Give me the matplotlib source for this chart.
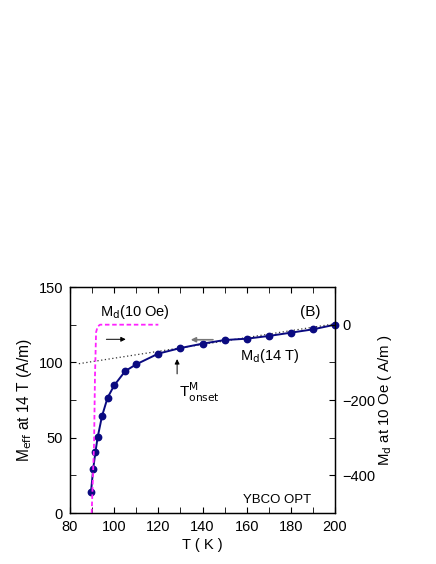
import matplotlib
matplotlib.use("Agg")
import matplotlib.pyplot as plt
from matplotlib.ticker import MultipleLocator

plt.rcParams['font.family'] = ['Liberation Sans', 'DejaVu Sans']

# Data
T_14T = [89.5, 90.5, 91.5, 92.5, 94.5, 97, 100, 105, 110, 120, 130, 140, 150, 160, 170, 180, 190, 200]
M_14T = [13.9, 29.4, 40.3, 50.2, 64.4, 76.5, 84.7, 94.2, 98.7, 105.8, 109.5, 112.4, 114.8, 115.7, 117.5, 119.7, 121.9, 125.0]

T_fit = [84, 200]
M_fit = [99.1, 125.6]

T_10Oe = [89.7, 90.9, 91.3, 91.8, 92.5, 93.6, 120]
M_10Oe = [-520, -313, -137, -20, -5, 0, 0]

fig = plt.figure(figsize=(4.36, 5.64), dpi=100)
ax = fig.add_axes([0.1606, 0.0904, 0.6077, 0.4007])
ax2 = ax.twinx()

ax.plot(T_fit, M_fit, color='#333333', ls=(0, (1, 2)), lw=0.9, zorder=2)
ax.plot(T_14T, M_14T, color='#0a0a80', lw=1.4, marker='o', ms=4.6, zorder=3, clip_on=False)
ax2.plot(T_10Oe, M_10Oe, color='#ff22ff', ls=(0, (2.5, 1.5)), lw=1.3)

ax.set_xlim(80, 200)
ax.set_ylim(0, 150)
ax2.set_ylim(-500, 100)

ax.xaxis.set_major_locator(MultipleLocator(20))
ax.xaxis.set_minor_locator(MultipleLocator(10))
ax.yaxis.set_major_locator(MultipleLocator(50))
ax.yaxis.set_minor_locator(MultipleLocator(25))
ax2.yaxis.set_major_locator(MultipleLocator(200))
ax2.yaxis.set_minor_locator(MultipleLocator(100))

ax.tick_params(which='both', direction='in', top=True, labelsize=10.5, pad=5)
ax.tick_params(axis='y', which='both', right=False)
ax.tick_params(which='major', length=4)
ax.tick_params(which='minor', length=4)
ax2.tick_params(which='both', direction='in', labelsize=10.5, length=4, pad=5)

for a in (ax, ax2):
    for s in a.spines.values():
        s.set_linewidth(0.9)

ax.set_xlabel('T ( K )', fontsize=10.5, labelpad=3)
ax.set_ylabel(r'M$_{\rm eff}$ at 14 T (A/m)', fontsize=11.2, labelpad=3)
ax2.set_ylabel(r'M$_{\rm d}$ at 10 Oe ( A/m )', fontsize=10.8, labelpad=1)

ax.text(93.6, 130.5, r'M$_{\rm d}$(10 Oe)', fontsize=10.5)
ax.text(184, 131, '(B)', fontsize=11)
ax.text(157, 101.5, r'M$_{\rm d}$(14 T)', fontsize=10.5)
ax.text(129.5, 77, r'T$^{\rm M}_{\rm onset}$', fontsize=11)
ax.text(158.5, 6.5, 'YBCO OPT', fontsize=9.5)

ax.annotate('', xy=(106.5, 115.3), xytext=(95.2, 115.3),
            arrowprops=dict(arrowstyle='-|>', color='black', lw=0.7, mutation_scale=7))
ax.annotate('', xy=(133.4, 115.0), xytext=(146, 115.0),
            arrowprops=dict(arrowstyle='-|>', color='#777777', lw=1.2, mutation_scale=7))
ax.annotate('', xy=(128.5, 104), xytext=(128.5, 90.5),
            arrowprops=dict(arrowstyle='-|>', color='black', lw=0.7, mutation_scale=7))

fig.savefig('out.png', dpi=100)
